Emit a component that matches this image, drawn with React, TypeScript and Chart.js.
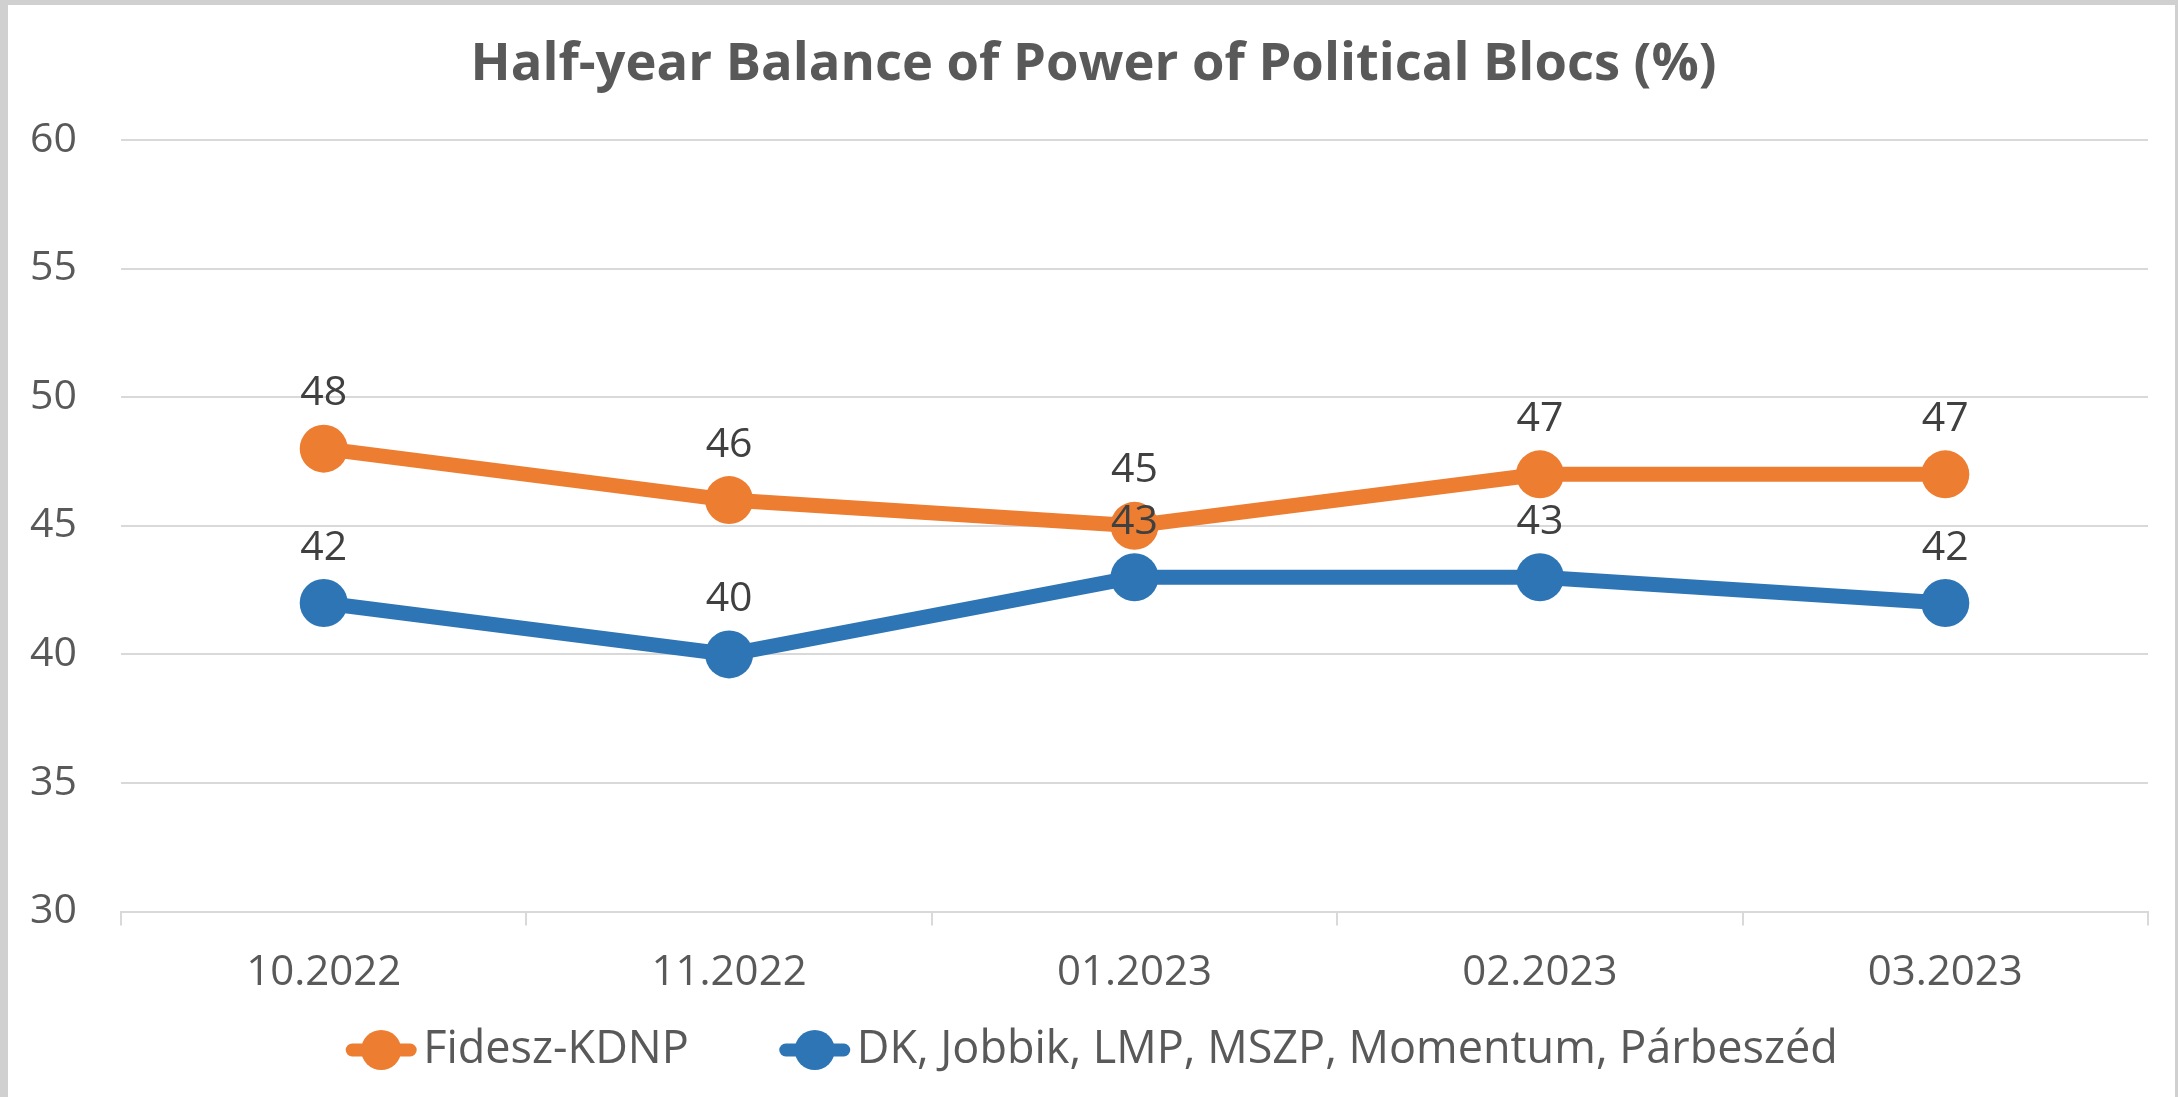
import React, { useEffect, useRef } from "react";
import { Chart, registerables } from "chart.js";

Chart.register(...registerables);

const categories = ["10.2022", "11.2022", "01.2023", "02.2023", "03.2023"];
const fideszValues = [48, 46, 45, 47, 47];
const oppositionValues = [42, 40, 43, 43, 42];
const seriesNames = ["Fidesz-KDNP", "DK, Jobbik, LMP, MSZP, Momentum, Párbeszéd"];
const chartTitle = "Half-year Balance of Power of Political Blocs (%)";

const ORANGE = "#ED7D31";
const BLUE = "#2E75B6";
const FONT = "'Open Sans', 'Noto Sans', sans-serif";

const dataLabelPlugin = {
  id: "dataLabels",
  afterDatasetsDraw(chart: any) {
    const ctx = chart.ctx;
    ctx.save();
    ctx.font = `41px ${FONT}`;
    ctx.fillStyle = "#404040";
    ctx.textAlign = "center";
    ctx.textBaseline = "middle";
    chart.data.datasets.forEach((ds: any, i: number) => {
      const meta = chart.getDatasetMeta(i);
      meta.data.forEach((pt: any, j: number) => {
        ctx.fillText(String(ds.data[j]), pt.x, pt.y - 55);
      });
    });
    ctx.restore();
  },
};

// Title centred on the whole canvas
const titlePlugin = {
  id: "centeredTitle",
  afterDraw(chart: any) {
    const ctx = chart.ctx;
    ctx.save();
    ctx.font = `bold 52.5px ${FONT}`;
    ctx.fillStyle = "#595959";
    ctx.textAlign = "center";
    ctx.textBaseline = "middle";
    ctx.fillText(chartTitle, chart.width / 2 + 2, 60);
    ctx.restore();
  },
};

// Custom legend: line-with-marker swatch followed by the series name
const legendPlugin = {
  id: "lineMarkerLegend",
  afterDraw(chart: any) {
    const ctx = chart.ctx;
    const fontSize = 45;
    const markerW = 72;
    const markerGap = 6;
    const itemGap = 90;
    const cy = 1045;
    ctx.save();
    ctx.font = `${fontSize}px ${FONT}`;
    const items = chart.data.datasets.map((ds: any) => ({
      text: ds.label,
      color: ds.borderColor,
      w: markerW + markerGap + ctx.measureText(ds.label).width,
    }));
    const total = items.reduce((s: number, it: any) => s + it.w, 0) + itemGap * (items.length - 1);
    let x = chart.width / 2 - total / 2;
    items.forEach((it: any) => {
      ctx.strokeStyle = it.color;
      ctx.fillStyle = it.color;
      ctx.lineWidth = 13;
      ctx.lineCap = "round";
      ctx.beginPath();
      ctx.moveTo(x + 7, cy);
      ctx.lineTo(x + markerW - 7, cy);
      ctx.stroke();
      ctx.beginPath();
      ctx.arc(x + markerW / 2, cy, 20, 0, Math.PI * 2);
      ctx.fill();
      ctx.fillStyle = "#595959";
      ctx.textAlign = "left";
      ctx.textBaseline = "middle";
      ctx.fillText(it.text, x + markerW + markerGap, cy);
      x += it.w + itemGap;
    });
    ctx.restore();
  },
};

export default function App() {
  const ref = useRef<HTMLCanvasElement | null>(null);

  useEffect(() => {
    if (!ref.current) return;
    const chart = new Chart(ref.current, {
      type: "line",
      data: {
        labels: categories,
        datasets: [
          {
            label: seriesNames[0],
            data: fideszValues,
            borderColor: ORANGE,
            backgroundColor: ORANGE,
            borderWidth: 15,
            pointRadius: 24,
            pointHoverRadius: 24,
            pointBackgroundColor: ORANGE,
            pointBorderWidth: 0,
            pointStyle: "circle",
            tension: 0,
          },
          {
            label: seriesNames[1],
            data: oppositionValues,
            borderColor: BLUE,
            backgroundColor: BLUE,
            borderWidth: 15,
            pointRadius: 24,
            pointHoverRadius: 24,
            pointBackgroundColor: BLUE,
            pointBorderWidth: 0,
            pointStyle: "circle",
            tension: 0,
          },
        ],
      },
      options: {
        animation: false,
        responsive: true,
        maintainAspectRatio: false,
        layout: { padding: { left: 0, right: 27, top: 135, bottom: 77 } },
        plugins: {
          title: { display: false },
          legend: { display: false },
          tooltip: { enabled: false },
        },
        scales: {
          x: {
            offset: true,
            grid: {
              offset: true,
              drawOnChartArea: false,
              drawTicks: true,
              tickLength: 14,
              color: "#D9D9D9",
              lineWidth: 2,
            },
            border: { display: true, color: "#D9D9D9", width: 2 },
            ticks: {
              color: "#595959",
              font: { family: FONT, size: 42 },
              padding: 22,
            },
          },
          y: {
            min: 30,
            max: 60,
            afterFit: (scale: any) => {
              scale.width = 113;
            },
            grid: {
              color: "#D9D9D9",
              lineWidth: 2,
              drawTicks: false,
            },
            border: { display: false },
            ticks: {
              stepSize: 5,
              color: "#595959",
              font: { family: FONT, size: 41 },
              padding: 44,
            },
          },
        },
      },
      plugins: [dataLabelPlugin, titlePlugin, legendPlugin],
    });
    return () => chart.destroy();
  }, []);

  return (
    <div
      style={{
        position: "fixed",
        left: 0,
        top: 0,
        width: 2178,
        height: 1097,
        boxSizing: "border-box",
        background: "#D0D0D0",
        paddingLeft: 8,
        paddingTop: 5,
        paddingRight: 3,
      }}
    >
      <div style={{ position: "relative", width: "100%", height: "100%", background: "#FFFFFF" }}>
        <canvas ref={ref} />
      </div>
    </div>
  );
}
